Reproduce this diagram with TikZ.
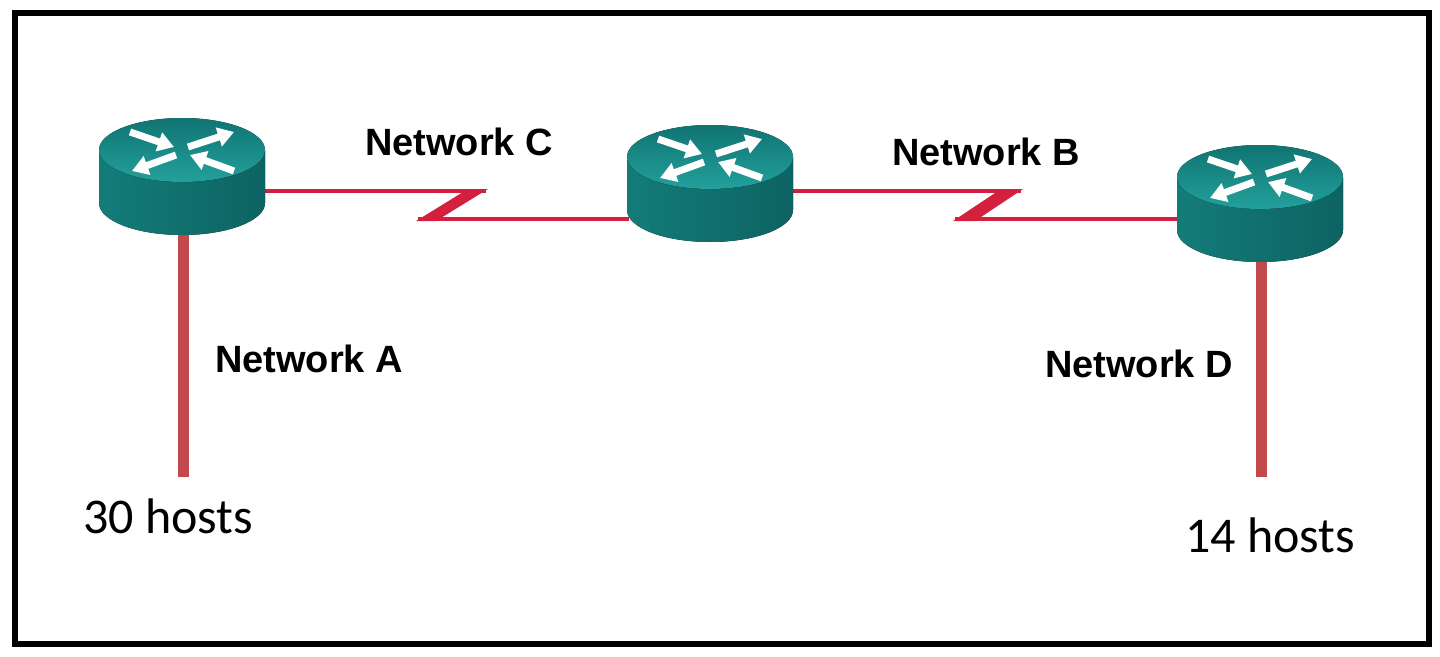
\documentclass[tikz,border=0pt]{standalone}
\usepackage{fontspec}
\setmainfont{Liberation Sans}
\newfontfamily\calibrifont{Carlito}
\usetikzlibrary{arrows.meta,calc}
\definecolor{serialred}{HTML}{D41F3D}
\definecolor{etherred}{HTML}{C24A4D}
\definecolor{rsideA}{HTML}{137C79}
\definecolor{rsideB}{HTML}{66C2BF}
\definecolor{rsideC}{HTML}{0D6362}
\definecolor{rtopA}{HTML}{107472}
\definecolor{rtopB}{HTML}{23A09C}
\tikzset{
  rarrow/.style={draw=white, line width=7pt, -{Triangle[length=16pt,width=19pt]}},
  routerpic/.pic={
    \fill[left color=rsideA, middle color=rsideB, right color=rsideC]
      (-83,0) -- (-83,53) arc[start angle=180,end angle=360,x radius=83pt,y radius=32pt] -- (83,0) -- cycle;
    \fill[top color=rtopA, bottom color=rtopB] (0,0) ellipse[x radius=83pt,y radius=32pt];
    \draw[rarrow] (-52,-18) -- (-8,-3);
    \draw[rarrow] (6,-3) -- (52,-18);
    \draw[rarrow] (-6,5) -- (-50,21);
    \draw[rarrow] (52,21) -- (8,5);
  },
  routerbox/.style={inner sep=0pt, minimum width=166pt, minimum height=117pt},
  seriallink/.style={draw=serialred, line width=4pt},
  zwedge/.style={fill=serialred},
  etherlink/.style={draw=etherred, line width=11pt},
  netlabel/.style={inner sep=0pt, anchor=base west, font=\fontsize{38}{40}\selectfont\bfseries},
  hostlabel/.style={inner sep=0pt, anchor=base west, font=\calibrifont\fontsize{50}{54}\selectfont},
}
\begin{document}
\begin{tikzpicture}[x=1pt,y=-1pt]
\useasboundingbox (0,0) rectangle (1440,656);
\fill[white] (0,0) rectangle (1440,656);
\draw[line width=6pt] (15,13) rectangle (1429,644);

% router placeholders
\node[routerbox] (r1) at (182,176.5) {};
\node[routerbox] (r2) at (710,183.5) {};
\node[routerbox] (r3) at (1260,203.5) {};

% Network C link
\coordinate (c1) at (486,191);
\coordinate (c2) at (418,219);
\draw[seriallink] ($(r1.east)+(-2,14.5)$) -- (c1);
\draw[seriallink] (c2) -- ($(r2.west)+(2,35.5)$);
\fill[zwedge] (468,189) -- (488,189) -- (436,221) -- (416,221) -- cycle;

% Network B link
\coordinate (b1) at (1021,191);
\coordinate (b2) at (955,219);
\draw[seriallink] ($(r2.east)+(-2,7.5)$) -- (b1);
\draw[seriallink] (b2) -- ($(r3.west)+(2,15.5)$);
\fill[zwedge] (1001,189) -- (1023,189) -- (975,221) -- (953,221) -- cycle;

% LAN links
\coordinate (h1) at (183,477);
\coordinate (h2) at (1261,477);
\draw[etherlink] ($(r1.south)+(1,-5)$) -- (h1);
\draw[etherlink] ($(r3.south)+(1,-5)$) -- (h2);

% routers
\pic at (182,150) {routerpic};
\pic at (710,157) {routerpic};
\pic at (1260,177) {routerpic};

% labels
\node[netlabel] (lc) at (365,155) {Network C};
\node[netlabel] (lb) at (892,165) {Network B};
\node[netlabel] (la) at (215,372) {Network A};
\node[netlabel] (ld) at (1045,377) {Network D};
\node[hostlabel] (ha) at (83,533) {30 hosts};
\node[hostlabel] (hd) at (1185,552) {14 hosts};
\end{tikzpicture}
\end{document}
